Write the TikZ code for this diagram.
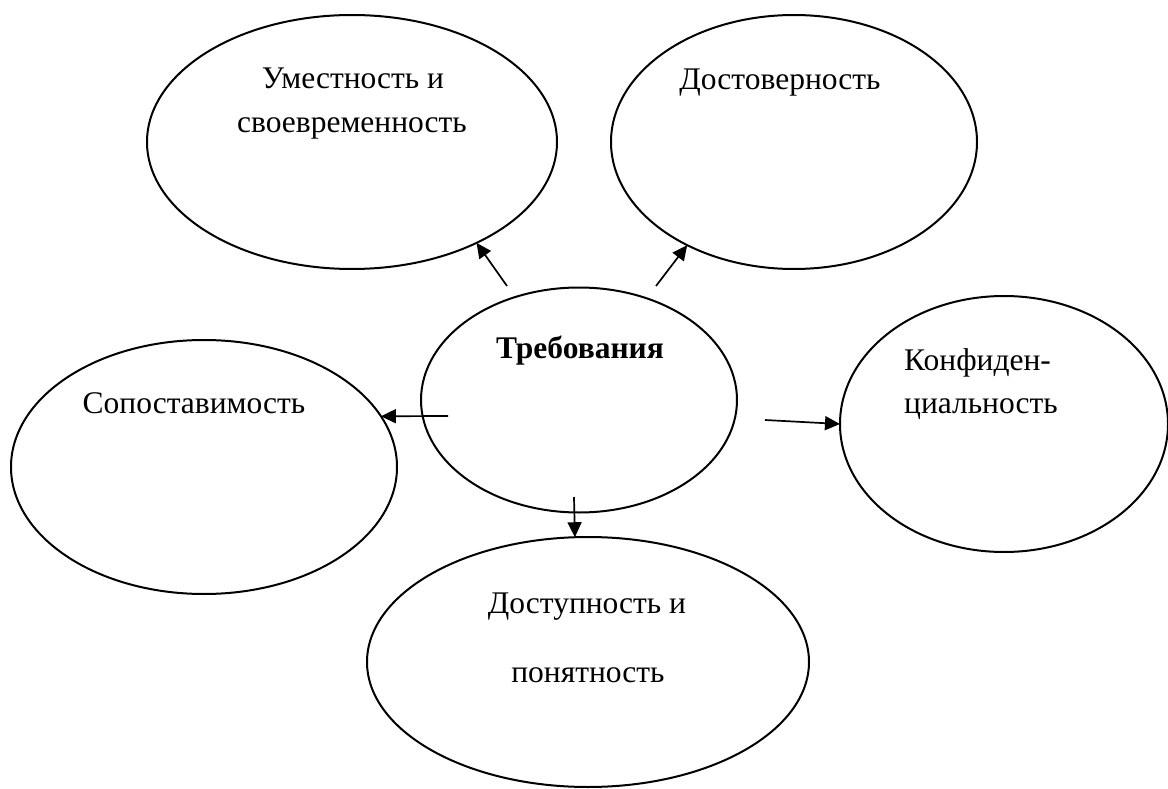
\documentclass[tikz,border=0pt]{standalone}
\usepackage{fontspec}
\setmainfont{Liberation Serif}
\usetikzlibrary{shapes.geometric,arrows.meta}

\tikzset{
  oval/.style={draw, ellipse, line width=2pt, inner sep=0pt, outer sep=0pt},
  txt/.style={anchor=base, inner sep=0pt, font=\fontsize{31.5}{44}\selectfont},
  link/.style={line width=1.7pt, -{Triangle[length=15pt,width=14pt]}}
}

\begin{document}
\begin{tikzpicture}[x=1pt,y=-1pt]

      \useasboundingbox (0,0) rectangle (1168,789);

      \node[oval, minimum width=410pt, minimum height=254pt] (tl) at (352,142) {};
      \node[oval, minimum width=366pt, minimum height=254pt] (tr) at (794,142) {};
      \node[oval, minimum width=316pt, minimum height=225pt] (req) at (579,400) {};
      \node[oval, minimum width=386pt, minimum height=254pt] (lf) at (204,467) {};
      \node[oval, minimum width=328pt, minimum height=256pt] (rt) at (1004,424) {};
      \node[oval, minimum width=442pt, minimum height=250pt] (bt) at (588,662) {};

      \node[txt] (tl1) at (353,89) {Уместность и};
      \node[txt] (tl2) at (352,133) {своевременность};
      \node[txt] (tr1) at (780,90) {Достоверность};
      \node[txt, font=\fontsize{31.5}{44}\selectfont\bfseries] (req1) at (580,358) {Требования};
      \node[txt] (lf1) at (194,413) {Сопоставимость};
      \node[txt, anchor=base west] (rt1) at (904,370) {Конфиден-};
      \node[txt, anchor=base west] (rt2) at (904,413) {циальность};
      \node[txt] (bt1) at (587,613) {Доступность и};
      \node[txt] (bt2) at (588,682) {понятность};

      \coordinate (s1) at (507,286);
      \coordinate (s2) at (656,286);
      \coordinate (s3) at (448,416);
      \coordinate (s4) at (765,420);
      \coordinate (s5) at (574,497);

      \draw[link] (s1) -- (tl.-39);
      \draw[link] (s2) -- (tr.224);
      \draw[link] (s3) -- (lf.16);
      \draw[link] (s4) -- (rt.west);
      \draw[link] (s5) -- (bt.96);

\end{tikzpicture}
\end{document}
